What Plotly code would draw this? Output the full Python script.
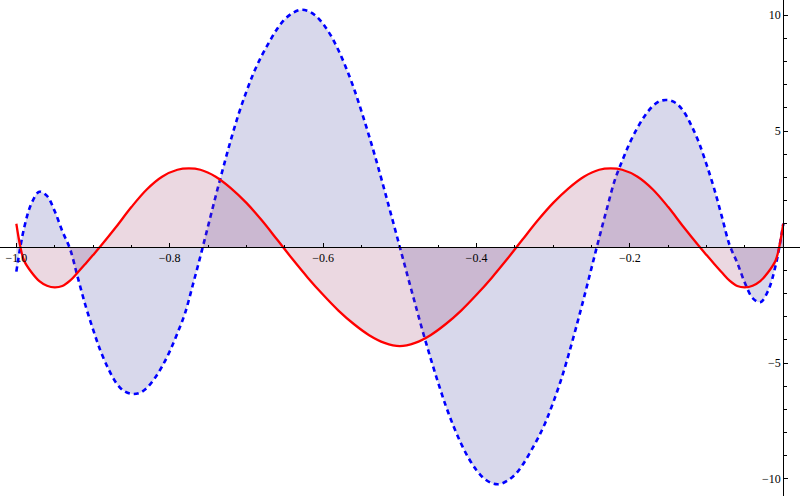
import plotly.graph_objects as go

# red curve (solid)
red_x = [-1.0, -0.995, -0.99, -0.98, -0.97, -0.96, -0.95, -0.94, -0.93, -0.92, -0.91, -0.90,
         -0.89, -0.87, -0.85, -0.83, -0.81, -0.79, -0.775, -0.76, -0.74, -0.72, -0.70, -0.68,
         -0.66, -0.64, -0.62, -0.60, -0.58, -0.56, -0.54, -0.52, -0.50,
         -0.48, -0.46, -0.44, -0.42, -0.40, -0.38, -0.36, -0.34, -0.32, -0.30, -0.28, -0.26,
         -0.24, -0.225, -0.21, -0.19, -0.17, -0.15, -0.13, -0.11, -0.10, -0.09, -0.08, -0.07,
         -0.06, -0.05, -0.04, -0.03, -0.02, -0.01, -0.005, 0.0]
red_y = [1.0, 0.05, -0.58, -1.1, -1.47, -1.67, -1.74, -1.68, -1.45, -1.1, -0.73, -0.35,
         0.04, 0.86, 1.72, 2.48, 3.03, 3.33, 3.39, 3.33, 3.03, 2.53, 1.9, 1.15,
         0.32, -0.52, -1.32, -2.06, -2.74, -3.32, -3.8, -4.13, -4.27,
         -4.13, -3.8, -3.32, -2.74, -2.06, -1.32, -0.52, 0.32, 1.15, 1.9, 2.53, 3.03,
         3.33, 3.39, 3.33, 3.03, 2.48, 1.72, 0.86, 0.04, -0.35, -0.73, -1.1, -1.45,
         -1.68, -1.74, -1.67, -1.47, -1.1, -0.58, 0.05, 1.0]

# blue curve (dashed)
blue_x = [round(-1 + 0.01 * i, 2) for i in range(101)]
blue_y = [-1.06, 0.8, 1.9, 2.38, 2.2, 1.55, 0.68, -0.08, -1.3, -2.5,
          -3.55, -4.5, -5.25, -5.85, -6.2, -6.33, -6.3, -6.08, -5.68, -5.15,
          -4.5, -3.72, -2.85, -1.65, -0.4, 0.9, 2.2, 3.45, 4.65, 5.75,
          6.7, 7.55, 8.25, 8.85, 9.4, 9.82, 10.08, 10.22, 10.18, 9.98,
          9.62, 9.12, 8.48, 7.72, 6.85, 5.85, 4.78, 3.65, 2.45, 1.23,
          0.0,
          -1.23, -2.45, -3.65, -4.78, -5.85, -6.85, -7.72, -8.48, -9.12, -9.62,
          -9.98, -10.18, -10.22, -10.08, -9.82, -9.4, -8.85, -8.25, -7.55, -6.7,
          -5.75, -4.65, -3.45, -2.2, -0.9, 0.4, 1.65, 2.85, 3.72, 4.5,
          5.15, 5.68, 6.08, 6.3, 6.33, 6.2, 5.85, 5.25, 4.5, 3.55,
          2.5, 1.3, 0.08, -0.68, -1.55, -2.2, -2.38, -1.9, -0.8, 1.0]

x_ticks = [-1.0, -0.8, -0.6, -0.4, -0.2]
x_labels = ["\u22121.0", "\u22120.8", "\u22120.6", "\u22120.4", "\u22120.2"]
y_ticks = [-10, -5, 5, 10]
y_labels = ["\u221210", "\u22125", "5", "10"]

fig = go.Figure()
fig.add_scatter(x=blue_x, y=blue_y, mode="lines", line_shape="spline",
                line=dict(color="#0000ff", width=2.6, dash="5px,4px", simplify=False),
                fill="tozeroy", fillcolor="rgba(61,61,153,0.2)")
fig.add_scatter(x=red_x, y=red_y, mode="lines", line_shape="spline",
                line=dict(color="#ff0000", width=2.3, simplify=False),
                fill="tozeroy", fillcolor="rgba(153,61,107,0.2)")

tickfont = dict(family="Liberation Serif", size=12, color="black")
fig.update_layout(
    width=800, height=496, showlegend=False,
    margin=dict(l=0, r=0, t=0, b=0),
    plot_bgcolor="white", paper_bgcolor="white",
    xaxis=dict(range=[-1.0213, 0.0218], anchor="free", position=0.502, automargin=False,
               showgrid=False, zeroline=False, showline=True, linecolor="black", linewidth=1,
               tickmode="array", tickvals=x_ticks, ticktext=x_labels,
               ticks="inside", ticklen=4, tickcolor="black", tickfont=tickfont,
               minor=dict(dtick=0.05, tick0=0, ticks="inside", ticklen=2.5, tickcolor="black")),
    yaxis=dict(range=[-10.733, 10.647], anchor="free", position=0.979, side="left",
               automargin=False,
               showgrid=False, zeroline=False, showline=True, linecolor="black", linewidth=1,
               tickmode="array", tickvals=y_ticks, ticktext=y_labels,
               ticks="inside", ticklen=4, tickcolor="black", tickfont=tickfont,
               minor=dict(dtick=1, tick0=0, ticks="inside", ticklen=2.5, tickcolor="black")),
)

# page body has a default 8px margin; drop it so the chart fills the window
fig.write_html("out.html", config={"displayModeBar": False},
               post_script="document.body.style.margin = '0';")
